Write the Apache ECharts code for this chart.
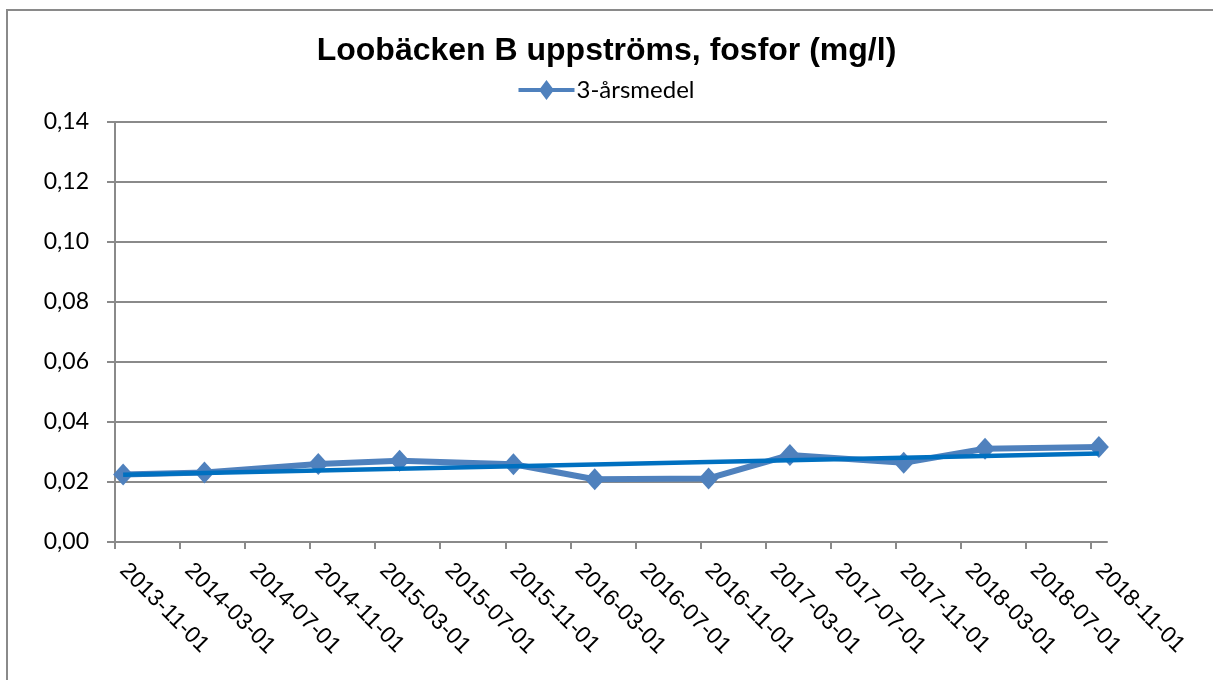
<!DOCTYPE html>
<html>
<head>
<meta charset="utf-8">
<script src="https://cdn.jsdelivr.net/npm/echarts@6/dist/echarts.min.js"></script>
<style>html,body{margin:0;padding:0;background:#fff}#c{width:1213px;height:680px}</style>
</head>
<body>
<div id="c"></div>
<script>
// ---- data ----
var pointDates = ['2013-11','2014-04','2014-11','2015-04','2015-11','2016-04','2016-11','2017-04','2017-11','2018-04','2018-11'];
var pointValues = [0.0225,0.0232,0.0260,0.0271,0.0259,0.0209,0.0212,0.0290,0.0264,0.0311,0.0317];
var trendDates = ['2013-11','2018-11'];
var trendValues = [0.0224,0.0295];
var tickLabels = ['2013-11-01','2014-03-01','2014-07-01','2014-11-01','2015-03-01','2015-07-01','2015-11-01','2016-03-01','2016-07-01','2016-11-01','2017-03-01','2017-07-01','2017-11-01','2018-03-01','2018-07-01','2018-11-01'];
var seriesName = '3-årsmedel';
var titleText = 'Loobäcken B uppströms, fosfor (mg/l)';

// month slot index from axis start (2013-11)
function monthIndex(s){
  var p = s.split('-');
  return (parseInt(p[0],10)-2013)*12 + (parseInt(p[1],10)-11);
}
var tickVals = tickLabels.map(function(s){return monthIndex(s);});
var labelVals = tickVals.map(function(v){return v+0.5;});
var labelMap = {};
tickLabels.forEach(function(s,i){ labelMap[labelVals[i]] = s; });
var lastSlot = monthIndex(pointDates[pointDates.length-1]) + 1;

var pts = pointDates.map(function(d,i){return [monthIndex(d)+0.5, pointValues[i]];});
var trend = trendDates.map(function(d,i){return [monthIndex(d)+0.5, trendValues[i]];});

var gray = '#8a8a8a';
var chart = echarts.init(document.getElementById('c'), null, {renderer:'canvas'});
chart.setOption({
  animation:false,
  backgroundColor:'#fff',
  title:{
    text:titleText, left:'center', top:30, padding:[5,0,5,14],
    textStyle:{fontFamily:'Liberation Sans, Arial', fontWeight:'bold', fontSize:32, color:'#000'}
  },
  legend:{
    top:73, left:'center',
    data:[{name:seriesName, icon:'path://M0,8 L22,8 L28,0 L34,8 L56,8 L56,12 L34,12 L28,20 L22,12 L0,12 Z'}],
    itemWidth:56, itemHeight:20, itemGap:10,
    textStyle:{fontFamily:'Lato', fontSize:24, color:'#000', padding:[0,0,0,-3]}
  },
  graphic:[{
    type:'rect', shape:{x:7,y:10,width:1212,height:700},
    style:{fill:'none', stroke:gray, lineWidth:2}, silent:true, z:-1
  }],
  grid:{left:115, right:106, top:122, bottom:138, containLabel:false},
  xAxis:{
    type:'value', min:0, max:lastSlot,
    axisLine:{show:true, onZero:false, lineStyle:{color:gray, width:2}},
    axisTick:{show:true, customValues:tickVals, length:7, lineStyle:{color:gray, width:2}},
    splitLine:{show:false},
    axisLabel:{
      customValues:labelVals, rotate:-45, margin:25,
      fontFamily:'Liberation Sans, Arial', fontSize:23, color:'#000',
      formatter:function(v){ return labelMap[v] || ''; }
    }
  },
  yAxis:{
    type:'value', min:0, max:0.14, interval:0.02,
    axisLine:{show:true, lineStyle:{color:gray, width:2}},
    axisTick:{show:true, length:8, lineStyle:{color:gray, width:2}},
    splitLine:{show:true, lineStyle:{color:gray, width:2}},
    axisLabel:{
      margin:26, fontFamily:'Lato', fontSize:23, color:'#000',
      formatter:function(v){ return v.toFixed(2).replace('.', ','); }
    }
  },
  series:[
    {
      name:seriesName, type:'line', data:pts,
      symbol:'diamond', symbolSize:[20,22],
      lineStyle:{color:'#4F81BD', width:6},
      itemStyle:{color:'#4F81BD'},
      z:2
    },
    {
      name:'trend', type:'line', data:trend,
      symbol:'none',
      lineStyle:{color:'#0070C0', width:4.5},
      z:3
    }
  ]
});
</script>
</body>
</html>
